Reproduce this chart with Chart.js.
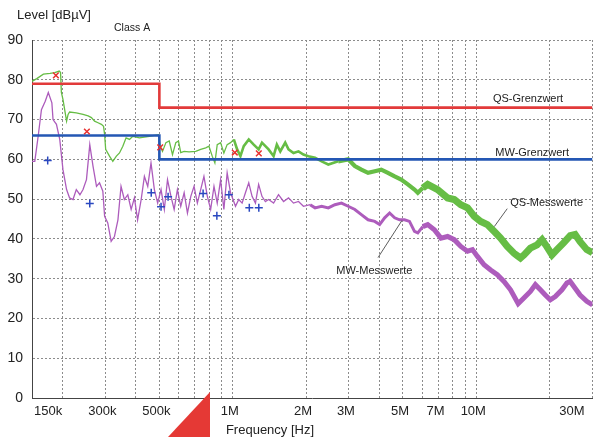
<!DOCTYPE html>
<html>
<head>
<meta charset="utf-8">
<script src="https://cdn.jsdelivr.net/npm/chart.js@4/dist/chart.umd.min.js"></script>
<style>
	html, body { margin: 0; padding: 0; background: #fff; }
	#wrap { position: relative; width: 598px; height: 437px; }
	#corner { position: absolute; left: 168px; top: 392px; width: 42px; height: 45px; background: #e53935; clip-path: polygon(100% 0, 100% 100%, 0 100%); }
</style>
</head>
<body>
<div id="wrap">
	<canvas id="emcChart" width="598" height="437"></canvas>
	<div id="corner"></div>
</div>
<script>
// frequencies in kHz, levels in dBµV
const limitFreq = [150, 500, 500, 30000];
const qsLimit = [79, 79, 73, 73];
const mwLimit = [66, 66, 60, 60];

const qsFreq = [150, 157, 167, 178, 186, 194, 196.5, 198, 201, 208, 211, 214, 228, 243, 255, 263, 271, 280, 289, 295,
	298, 301, 312, 322, 333, 343, 354, 365, 377, 389, 414, 455, 496, 504, 515, 532, 549, 566, 584, 599,
	612, 632, 662, 705, 739, 775, 799, 824, 845, 864, 892, 920, 949, 980, 1011, 1043, 1076, 1110, 1164, 1220,
	1278, 1319, 1404, 1472, 1518, 1568, 1643, 1695, 1777, 1863, 1952, 2046, 2178, 2318, 2469, 2711, 2979, 3173, 3375, 3596,
	3830, 4074, 4338, 4622, 4917, 5237, 5577, 5753, 6029, 6318, 6940, 7624, 8121, 8640, 9204, 9801, 10425, 11103, 11825, 12582,
	13400, 14273, 14720, 15183, 15720, 16680, 17760, 18620, 19510, 20460, 21440, 22830, 24300, 25460, 26680, 28420, 30000];
const qsLevel = [79.6, 80.3, 81.4, 81.6, 81.8, 82.2, 81.8, 76.8, 75.1, 69.6, 71.3, 71.9, 71.7, 71.3, 70.9, 70.5, 69.6, 69.2, 68.8, 68.3,
	66.2, 62.5, 60.8, 59.5, 60.8, 61.6, 63.3, 65.4, 65.0, 65.8, 65.4, 65.8, 66.2, 63.3, 62.0, 64.2, 64.6, 61.2, 64.2, 64.6,
	61.7, 62.0, 61.9, 62.0, 62.5, 62.9, 63.3, 60.8, 59.1, 63.7, 64.2, 61.6, 63.7, 64.2, 65.0, 62.5, 60.8, 63.3, 65.0, 63.7,
	62.5, 64.2, 62.5, 60.8, 63.7, 62.0, 64.2, 62.5, 61.6, 62.0, 61.2, 60.8, 60.4, 59.5, 58.7, 59.5, 60.0, 58.3, 57.4, 56.6,
	57.0, 57.4, 56.6, 55.7, 54.9, 53.7, 52.4, 51.6, 52.8, 53.7, 52.4, 50.3, 49.9, 48.6, 47.8, 45.7, 44.4, 43.6, 41.9, 40.2,
	38.1, 36.4, 35.8, 35.2, 36.0, 37.7, 38.5, 39.8, 38.0, 36.0, 37.3, 39.0, 40.8, 41.1, 39.3, 37.3, 36.5];

const mwFreq = [150, 154, 159, 164, 170, 175, 181, 183, 189, 195, 201, 208, 214, 221, 228, 236, 243, 251, 259, 267,
	276, 284, 293, 298, 307, 317, 327, 338, 348, 359, 371, 383, 395, 407, 421, 434, 448, 462, 477, 492,
	508, 524, 540, 558, 575, 593, 612, 632, 652, 673, 694, 716, 739, 762, 787, 812, 838, 864, 892, 920,
	949, 980, 1027, 1059, 1093, 1128, 1164, 1201, 1240, 1278, 1319, 1362, 1404, 1472, 1542, 1617, 1695, 1777, 1863, 1952,
	2079, 2178, 2318, 2469, 2628, 2797, 2979, 3173, 3375, 3596, 3830, 4012, 4206, 4408, 4622, 4842, 5075, 5319, 5577, 5753,
	6029, 6318, 6729, 7159, 7624, 8121, 8640, 9204, 9647, 10110, 10764, 11454, 12198, 12990, 13824, 14859, 15720, 16680, 17480, 18330,
	19200, 20130, 21100, 22470, 23550, 24300, 25460, 26680, 28420, 30000];
const mwLevel = [59.5, 59.5, 65.8, 72.5, 74.6, 76.8, 74.2, 70.0, 68.8, 65.0, 57.4, 52.4, 50.3, 49.9, 52.4, 51.1, 52.4, 54.9, 63.7, 58.3,
	53.2, 54.1, 52.0, 45.7, 44.0, 39.4, 40.6, 44.8, 53.2, 49.9, 51.1, 47.4, 50.3, 44.8, 49.9, 55.7, 53.2, 59.1, 52.4, 49.0,
	52.4, 47.4, 54.9, 50.7, 47.4, 52.4, 48.2, 51.6, 46.5, 50.7, 53.2, 49.0, 52.4, 55.7, 50.7, 47.4, 53.2, 49.0, 54.9, 47.4,
	56.6, 51.6, 48.2, 49.9, 49.0, 51.6, 54.1, 50.7, 49.0, 53.7, 50.7, 49.4, 49.9, 49.0, 51.1, 49.4, 50.3, 49.0, 49.4, 48.2,
	48.6, 47.8, 48.2, 47.8, 48.6, 49.0, 48.2, 47.4, 46.1, 44.8, 44.4, 43.6, 45.3, 46.5, 45.3, 44.8, 44.8, 44.4, 41.9, 41.5,
	43.1, 43.6, 42.3, 40.2, 40.6, 39.8, 38.1, 36.9, 37.3, 35.6, 33.5, 32.2, 31.0, 29.3, 27.2, 23.7, 25.2, 26.8, 28.5, 27.2,
	25.9, 24.7, 25.5, 27.2, 28.9, 29.3, 27.6, 25.9, 24.3, 23.4];

const qsPeakFreq = [188, 252, 504, 1020, 1280];
const qsPeakLevel = [81.1, 67.0, 63.0, 61.7, 61.5];
const mwPeakFreq = [174, 259, 463, 508, 543, 756, 861, 965, 1170, 1280];
const mwPeakLevel = [59.7, 48.9, 51.6, 48.1, 50.6, 51.4, 45.8, 51.1, 47.8, 47.8];

const gridFreq = [150, 200, 300, 400, 500, 600, 700, 800, 900, 1000, 2000, 3000, 4000, 5000, 6000, 7000, 8000, 9000, 10000, 20000, 30000];
const freqLabels = [150, 300, 500, 1000, 2000, 3000, 5000, 7000, 10000, 30000];
const freqNames = ['150k', '300k', '500k', '1M', '2M', '3M', '5M', '7M', '10M', '30M'];
const levelTicks = [0, 10, 20, 30, 40, 50, 60, 70, 80, 90];

const FONT = '"Liberation Sans", Arial, sans-serif';
const pts = (fs, ls) => fs.map((f, i) => ({ x: f, y: ls[i] }));

// the measured traces get thicker towards high frequencies (dense noise band)
const qsWidth = f => (f < 1000 ? 1.3 : f < 2500 ? 2.6 : f < 6000 ? 4.2 : 7);
const mwWidth = f => (f < 2000 ? 1.3 : f < 6000 ? 3 : 5);

const labelPlugin = {
	id: 'emcLabels',
	afterDraw(chart) {
		const { ctx, chartArea, scales: { x, y } } = chart;
		ctx.save();
		ctx.fillStyle = '#222';

		ctx.font = '14px ' + FONT;
		ctx.textAlign = 'right';
		ctx.textBaseline = 'middle';
		levelTicks.forEach(v => ctx.fillText(String(v), chartArea.left - 9, y.getPixelForValue(v)));

		ctx.font = '13px ' + FONT;
		freqLabels.forEach((f, i) => {
			let px = x.getPixelForValue(f);
			if (i === 0) { ctx.textAlign = 'left'; px += 2; }
			else if (i === freqLabels.length - 1) { ctx.textAlign = 'right'; px -= 8; }
			else { ctx.textAlign = 'center'; px -= 3; }
			ctx.fillText(freqNames[i], px, chartArea.bottom + 13);
		});

		ctx.textAlign = 'left';
		ctx.font = '13px ' + FONT;
		ctx.fillText('Level [dBµV]', 17, 15);
		ctx.font = '10.5px ' + FONT;
		ctx.fillText('Class A', 114, 28);
		ctx.textAlign = 'center';
		ctx.font = '13px ' + FONT;
		ctx.fillText('Frequency [Hz]', 270, 430);

		ctx.textAlign = 'left';
		ctx.font = '11px ' + FONT;
		ctx.fillText('QS-Grenzwert', x.getPixelForValue(11700), y.getPixelForValue(75.1));
		ctx.fillText('MW-Grenzwert', x.getPixelForValue(11970), y.getPixelForValue(61.5));
		ctx.fillText('QS-Messwerte', x.getPixelForValue(13790), y.getPixelForValue(49.1));
		ctx.fillText('MW-Messwerte', x.getPixelForValue(2661), y.getPixelForValue(32.0));

		ctx.strokeStyle = '#333';
		ctx.lineWidth = 0.8;
		ctx.beginPath();
		ctx.moveTo(x.getPixelForValue(13400), y.getPixelForValue(47.6));
		ctx.lineTo(x.getPixelForValue(11860), y.getPixelForValue(43.1));
		ctx.moveTo(x.getPixelForValue(3950), y.getPixelForValue(35.3));
		ctx.lineTo(x.getPixelForValue(4950), y.getPixelForValue(44.6));
		ctx.stroke();
		ctx.restore();
	}
};

const ctx = document.getElementById('emcChart').getContext('2d');
new Chart(ctx, {
	type: 'line',
	data: {
		datasets: [
			{
				label: 'QS peaks',
				data: pts(qsPeakFreq, qsPeakLevel),
				showLine: false,
				pointStyle: 'crossRot',
				pointRadius: 4,
				borderColor: '#e8302f',
				borderWidth: 1.5
			},
			{
				label: 'MW peaks',
				data: pts(mwPeakFreq, mwPeakLevel),
				showLine: false,
				pointStyle: 'cross',
				pointRadius: 4,
				borderColor: '#2a48c0',
				borderWidth: 1.5
			},
			{
				label: 'MW-Grenzwert',
				data: pts(limitFreq, mwLimit),
				borderColor: '#2457b4',
				borderWidth: 2.6,
				pointRadius: 0
			},
			{
				label: 'QS-Grenzwert',
				data: pts(limitFreq, qsLimit),
				borderColor: '#e23a3a',
				borderWidth: 2.6,
				pointRadius: 0
			},
			{
				label: 'QS-Messwerte',
				data: pts(qsFreq, qsLevel),
				borderColor: '#66bd45',
				borderWidth: 1.3,
				pointRadius: 0,
				segment: { borderWidth: c => qsWidth(c.p0.parsed.x) }
			},
			{
				label: 'MW-Messwerte',
				data: pts(mwFreq, mwLevel),
				borderColor: '#ad5cbc',
				borderWidth: 1.3,
				pointRadius: 0,
				segment: { borderWidth: c => mwWidth(c.p0.parsed.x) }
			}
		]
	},
	options: {
		responsive: false,
		animation: false,
		devicePixelRatio: 1,
		layout: { padding: { left: 32, top: 40, right: 2, bottom: 39 } },
		plugins: { legend: { display: false }, tooltip: { enabled: false } },
		scales: {
			x: {
				type: 'logarithmic',
				min: 150,
				max: 30000,
				afterBuildTicks: s => { s.ticks = gridFreq.map(v => ({ value: v })); },
				ticks: { display: false },
				grid: { color: '#8c8c8c', lineWidth: 1, drawTicks: false },
				border: { color: '#444', width: 1, dash: [2, 2] }
			},
			y: {
				min: 0,
				max: 90,
				afterBuildTicks: s => { s.ticks = levelTicks.map(v => ({ value: v })); },
				ticks: { display: false },
				grid: { color: '#8c8c8c', lineWidth: 1, drawTicks: false },
				border: { color: '#444', width: 1, dash: [2, 2] }
			}
		}
	},
	plugins: [labelPlugin]
});
</script>
</body>
</html>
